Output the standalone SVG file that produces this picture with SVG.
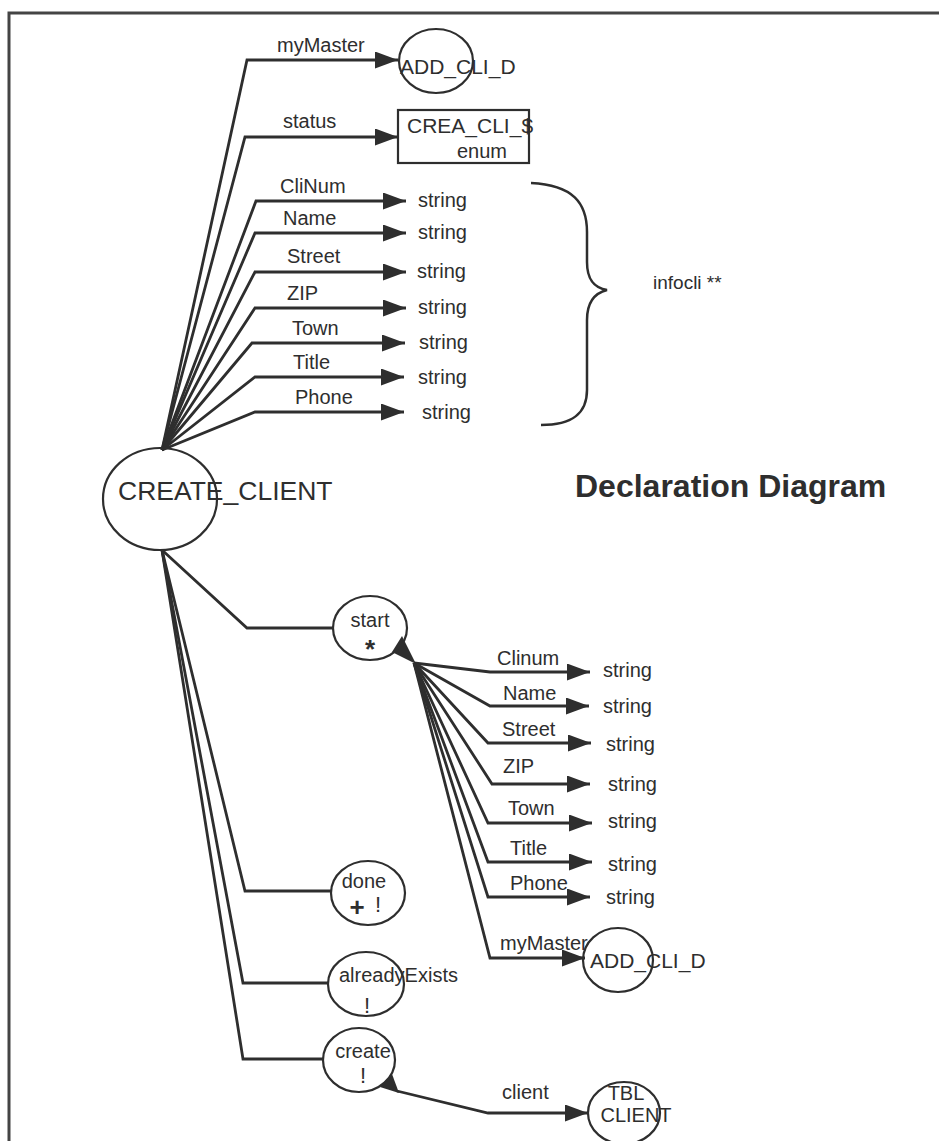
<svg xmlns="http://www.w3.org/2000/svg" width="939" height="1141" viewBox="0 0 939 1141">
<style>
text { font-family: "Liberation Sans", Arial, sans-serif; font-size: 20px; fill: #2e2e2e; }
.node { fill: none; stroke: #2e2e2e; stroke-width: 2.2; }
.edge { fill: none; stroke: #2e2e2e; stroke-width: 2.8; stroke-linejoin: miter; }
.arr { marker-end: url(#ah); }
.wedge { fill: #2e2e2e; }
.title { font-weight: bold; font-size: 32px; }
.sym { font-weight: bold; font-size: 26px; }
.mid { text-anchor: middle; }
.frame { fill: none; stroke: #444; stroke-width: 3; }
</style>
<defs>
<marker id="ah" markerUnits="userSpaceOnUse" markerWidth="23" markerHeight="17" refX="23" refY="8.5" orient="auto">
<path d="M0,0 L23,8.5 L0,17 Z" fill="#2e2e2e"/>
</marker>
</defs>
<rect x="0" y="0" width="939" height="1141" fill="#fff"/>
<rect class="frame" x="9" y="13" width="960" height="1160"/>

<g id="connectors">
<path class="edge arr" d="M162,450 L247,60 L398,60"/>
<path class="edge arr" d="M162,450 L245,137 L398,137"/>
<path class="edge arr" d="M162,450 L256,201 L406,201"/>
<path class="edge arr" d="M162,450 L255,233 L406,233"/>
<path class="edge arr" d="M162,450 L255,272 L406,272"/>
<path class="edge arr" d="M162,450 L255,308 L406,308"/>
<path class="edge arr" d="M162,450 L252,343 L405,343"/>
<path class="edge arr" d="M162,450 L255,377 L404,377"/>
<path class="edge arr" d="M162,450 L255,412 L404,412"/>

<path class="edge" d="M162,550 L247,628 L333,628"/>
<path class="edge" d="M162,550 L245,891 L331,891"/>
<path class="edge" d="M162,550 L243,983 L328,983"/>
<path class="edge" d="M162,550 L243,1059 L323,1059"/>

<polygon class="wedge" points="402,636 392,652 416,664"/>
<path class="edge arr" d="M414,663 L490,672 L590,672"/>
<path class="edge arr" d="M414,663 L490,706 L589,706"/>
<path class="edge arr" d="M414,663 L488,743 L591,743"/>
<path class="edge arr" d="M414,663 L492,784 L590,784"/>
<path class="edge arr" d="M414,663 L488,823 L592,823"/>
<path class="edge arr" d="M414,663 L488,862 L592,862"/>
<path class="edge arr" d="M414,663 L488,897 L590,897"/>
<path class="edge arr" d="M414,663 L490,958 L585,958"/>

<polygon class="wedge" points="380,1087 392,1074 399,1093"/>
<path class="edge arr" d="M397,1091 L488,1113 L588,1113"/>

<text x="277" y="52">myMaster</text>
<text x="283" y="128">status</text>
<text x="280" y="193">CliNum</text>
<text x="283" y="225">Name</text>
<text x="287" y="263">Street</text>
<text x="287" y="300">ZIP</text>
<text x="292" y="335">Town</text>
<text x="293" y="369">Title</text>
<text x="295" y="404">Phone</text>

<text x="497" y="665">Clinum</text>
<text x="503" y="700">Name</text>
<text x="502" y="736">Street</text>
<text x="503" y="773">ZIP</text>
<text x="508" y="815">Town</text>
<text x="510" y="855">Title</text>
<text x="510" y="890">Phone</text>
<text x="500" y="950">myMaster</text>
<text x="502" y="1099">client</text>
</g>

<g id="CREATE_CLIENT">
<ellipse class="node" cx="160" cy="499" rx="57" ry="51"/>
<text x="118" y="500" style="font-size:26.5px">CREATE_CLIENT</text>
</g>

<g id="ADD_CLI_D_top">
<ellipse class="node" cx="436" cy="61" rx="37" ry="32"/>
<text x="400" y="74" style="font-size:21px">ADD_CLI_D</text>
</g>

<g id="CREA_CLI_S">
<rect class="node" x="398" y="110" width="131" height="53"/>
<text x="407" y="133" style="font-size:21px">CREA_CLI_$</text>
<text x="457" y="158">enum</text>
</g>

<g id="strings_top">
<text x="418" y="207">string</text>
<text x="418" y="239">string</text>
<text x="417" y="278">string</text>
<text x="418" y="314">string</text>
<text x="419" y="349">string</text>
<text x="418" y="384">string</text>
<text x="422" y="419">string</text>
</g>

<g id="infocli">
<path class="edge" style="stroke-width:2.5" d="M531,183 C573,185 587,203 587,232 L587,262 C587,281 595,288 607,290 C595,293 587,301 587,320 L587,390 C587,414 572,425 541,425"/>
<text x="653" y="289" style="font-size:19px">infocli **</text>
</g>

<g id="title">
<text class="title" x="575" y="497">Declaration Diagram</text>
</g>

<g id="start">
<ellipse class="node" cx="370" cy="628" rx="37" ry="32"/>
<text class="mid" x="370" y="627">start</text>
<text class="sym mid" x="370" y="658">*</text>
</g>

<g id="strings_start">
<text x="603" y="677">string</text>
<text x="603" y="713">string</text>
<text x="606" y="751">string</text>
<text x="608" y="791">string</text>
<text x="608" y="828">string</text>
<text x="608" y="871">string</text>
<text x="606" y="904">string</text>
</g>

<g id="ADD_CLI_D_bottom">
<ellipse class="node" cx="618" cy="960" rx="35" ry="32"/>
<text x="590" y="968" style="font-size:21px">ADD_CLI_D</text>
</g>

<g id="done">
<ellipse class="node" cx="368" cy="893" rx="37" ry="32"/>
<text class="mid" x="364" y="888">done</text>
<text class="sym mid" x="357" y="916">+</text>
<text class="mid" x="378" y="912" style="font-size:22px">!</text>
</g>

<g id="alreadyExists">
<ellipse class="node" cx="366" cy="984" rx="38" ry="32"/>
<text x="339" y="982">alreadyExists</text>
<text class="mid" x="367" y="1013" style="font-size:22px">!</text>
</g>

<g id="create">
<ellipse class="node" cx="359" cy="1060" rx="36" ry="32"/>
<text class="mid" x="363" y="1058">create</text>
<text class="mid" x="363" y="1083" style="font-size:22px">!</text>
</g>

<g id="TBL_CLIENT">
<ellipse class="node" cx="624" cy="1113" rx="36" ry="31"/>
<text class="mid" x="626" y="1100">TBL</text>
<text class="mid" x="636" y="1122">CLIENT</text>
</g>
</svg>
